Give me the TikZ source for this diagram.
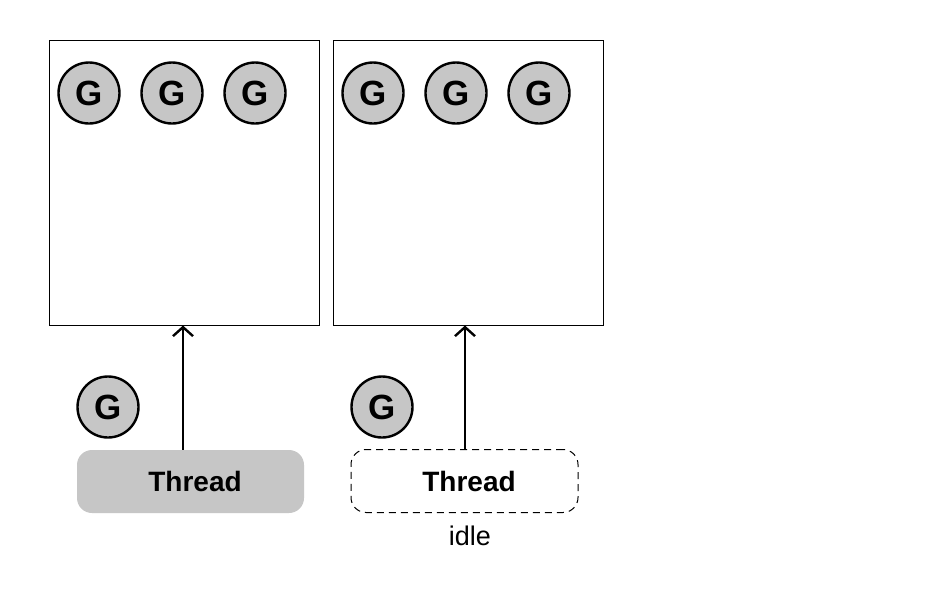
\documentclass[tikz,border=0pt]{standalone}
\usepackage{fontspec}
\setmainfont{Liberation Sans}
\usetikzlibrary{arrows.meta}
\begin{document}
\begin{tikzpicture}[x=1pt,y=-1pt,
  gnode/.style={circle,draw=black,line width=2.4pt,fill=gfill,minimum size=61pt,inner sep=0pt,font=\fontsize{35}{38}\selectfont\bfseries},
  procbox/.style={draw=black,line width=1pt,minimum width=270pt,minimum height=285pt,inner sep=0pt},
  threadbox/.style={rounded corners=15pt,minimum width=227pt,minimum height=63pt,inner sep=0pt,font=\fontsize{28}{32}\selectfont\bfseries},
  conn/.style={line width=2.7pt,-{Straight Barb[length=9pt,width=20pt,line width=2.4pt]}}]
\definecolor{gfill}{HTML}{C6C6C6}
\useasboundingbox (0,0) rectangle (929,592);
\fill[white] (0,0) rectangle (929,592);
\node[procbox] (p1) at (184,182.5) {};
\node[procbox] (p2) at (468,182.5) {};
\node[gnode] (g1) at (89,93) {G};
\node[gnode] (g2) at (172,93) {G};
\node[gnode] (g3) at (255,93) {G};
\node[gnode] (g4) at (373,93) {G};
\node[gnode] (g5) at (456,93) {G};
\node[gnode] (g6) at (539,93) {G};
\node[gnode] (g7) at (108,407) {G};
\node[gnode] (g8) at (382,407) {G};
\node[threadbox,fill=gfill] (t1) at (190.5,481.5) {\hspace*{9pt}Thread};
\node[threadbox,draw=black,line width=1pt,dash pattern=on 7pt off 5pt] (t2) at (464.5,481) {\hspace*{9pt}Thread};
\node[font=\fontsize{27}{30}\selectfont] (idle) at (470,536) {idle};
\draw[conn] (t1.north -| 183,0) -- (p1.south -| 183,0);
\draw[conn] (t2.north -| 465,0) -- (p2.south -| 465,0);
\end{tikzpicture}
\end{document}
